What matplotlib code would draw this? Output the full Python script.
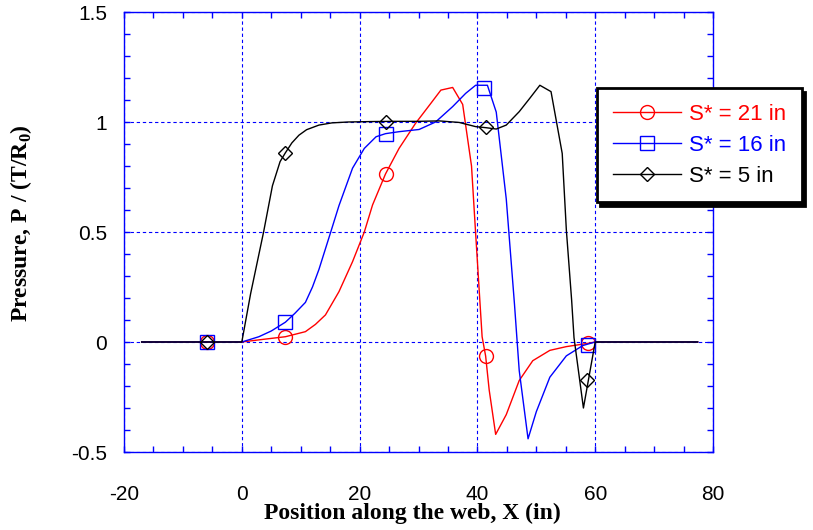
import matplotlib
matplotlib.use("Agg")
import matplotlib.pyplot as plt
from matplotlib.lines import Line2D
from matplotlib.ticker import MultipleLocator

plt.rcParams['font.family'] = ['Liberation Sans', 'DejaVu Sans']
plt.rcParams['mathtext.fontset'] = 'custom'
plt.rcParams['mathtext.rm'] = 'Liberation Serif:bold'

# S* = 21 in (red)
x21 = [-17, -5.9, 0, 3, 7.4, 10.8, 12.5, 14.2, 16.5, 18.8, 20.8, 22.2, 24.4, 26.7,
       29.5, 32.1, 33.8, 35.8, 37.5, 39.0, 39.7, 40.8, 41.4, 42.0, 43.1, 44.9, 47.1,
       49.4, 52.3, 55.1, 58.8, 60.0, 65, 77.4]
y21 = [0, 0, 0, 0.01, 0.024, 0.047, 0.08, 0.123, 0.229, 0.365, 0.50, 0.623, 0.764, 0.88,
       0.994, 1.085, 1.145, 1.157, 1.08, 0.80, 0.494, 0.024, -0.064, -0.218, -0.42, -0.33, -0.175,
       -0.085, -0.038, -0.021, -0.006, 0, 0, 0]

# S* = 16 in (blue)
x16 = [-17, -5.9, 0, 2.9, 5, 7.4, 9, 10.8, 12, 13.1, 15.1, 16.5, 18.8, 20.8, 22.8, 24.4,
       26.7, 30.1, 32.9, 35.8, 38.0, 39.7, 41.7, 43.2, 44.9, 46.3, 47.1, 48.6, 50.0, 52.3,
       55.1, 57.9, 60.0, 65, 77.4]
y16 = [0, 0, 0, 0.024, 0.05, 0.09, 0.13, 0.18, 0.25, 0.33, 0.50, 0.62, 0.79, 0.88, 0.933, 0.947,
       0.956, 0.966, 1.0, 1.07, 1.13, 1.167, 1.167, 1.045, 0.65, 0.17, -0.13, -0.44, -0.317, -0.16,
       -0.063, -0.016, 0, 0, 0]

# S* = 5 in (black)
x5 = [-17, -5.9, 0, 1.5, 3.7, 5.2, 6.5, 7.4, 8.5, 9.7, 11, 13.1, 15.3, 18, 22, 26, 30,
      33.5, 36.9, 39.7, 41.5, 43.2, 44.9, 47.1, 48.9, 50.6, 52.5, 54.4, 55.1, 56.0, 56.4,
      58.0, 60.0, 65, 77.4]
y5 = [0, 0, 0, 0.22, 0.50, 0.71, 0.82, 0.86, 0.905, 0.94, 0.965, 0.986, 0.996, 1.0, 1.002,
      1.003, 1.003, 1.005, 0.998, 0.979, 0.974, 0.968, 0.986, 1.047, 1.108, 1.167, 1.138, 0.857,
      0.51, 0.19, 0.02, -0.30, 0, 0, 0]

# marker positions
mx21 = [-5.9, 7.4, 24.4, 41.4, 58.8]
my21 = [0, 0.024, 0.764, -0.064, -0.006]
mx16 = [-5.9, 7.4, 24.4, 41.2, 58.8]
my16 = [0, 0.09, 0.947, 1.153, -0.014]
mx5 = [-5.9, 7.4, 24.4, 41.5, 58.6]
my5 = [0, 0.86, 1.0, 0.976, -0.173]

labels = ['S* = 21 in', 'S* = 16 in', 'S* = 5 in']
colors = ['#ff0000', '#0000ff', '#000000']
markers = ['o', 's', 'D']
msizes = [10, 9.5, 7]

fig = plt.figure(figsize=(8.13, 5.3), dpi=100)
ax = fig.add_axes([124/813, 78/530, 589/813, 440/530])

series = [(x21, y21, mx21, my21), (x16, y16, mx16, my16), (x5, y5, mx5, my5)]
handles = []
for (x, y, mx, my), c, m, ms, lab in zip(series, colors, markers, msizes, labels):
    ax.plot(x, y, color=c, lw=1.0)
    ax.plot(mx, my, ls='none', marker=m, ms=ms, mfc='none', mec=c, mew=1.0)
    handles.append(Line2D([], [], color=c, lw=1.0, marker=m, ms=ms, mfc='none', mec=c, mew=1.0))

ax.set_xlim(-20, 80)
ax.set_ylim(-0.5, 1.5)
ax.xaxis.set_major_locator(MultipleLocator(20))
ax.xaxis.set_minor_locator(MultipleLocator(5))
ax.yaxis.set_major_locator(MultipleLocator(0.5))
ax.yaxis.set_minor_locator(MultipleLocator(0.1))
ax.set_xticks([-20, 0, 20, 40, 60, 80])
ax.set_xticklabels(['-20', '0', '20', '40', '60', '80'])
ax.set_yticks([-0.5, 0, 0.5, 1, 1.5])
ax.set_yticklabels(['-0.5', '0', '0.5', '1', '1.5'])

ax.grid(which='major', color='#0000ff', linestyle=(0, (3, 2.5)), lw=0.8)
for s in ax.spines.values():
    s.set_color('#0000ff')
    s.set_linewidth(1.0)
ax.tick_params(which='both', direction='in', top=True, right=True, color='#0000ff',
               length=4, width=1, labelsize=15, labelcolor='black')
ax.tick_params(axis='x', which='both', pad=24)
ax.tick_params(axis='y', which='both', pad=12)

ax.set_xlabel('Position along the web, X (in)', family='Liberation Serif',
              fontweight='bold', fontsize=17)
ax.xaxis.set_label_coords(0.49, -0.115)
ax.set_ylabel(r'Pressure, P / (T/R$_{\mathrm{0}}$)', family='Liberation Serif',
              fontweight='bold', fontsize=17)
ax.yaxis.set_label_coords(-0.152, 0.52)

leg = fig.legend(handles, labels, loc='upper left', bbox_to_anchor=(597/813, 1 - 88/530),
                 borderaxespad=0, fontsize=16, handlelength=3.1, handletextpad=0.35,
                 borderpad=0.7, labelspacing=0.45, fancybox=False,
                 shadow={'ox': 2, 'oy': -3, 'color': 'black', 'alpha': 1})
leg.get_frame().set_edgecolor('black')
leg.get_frame().set_linewidth(2)
for t, c in zip(leg.get_texts(), colors):
    t.set_color(c)

fig.savefig('out.png', dpi=100)
